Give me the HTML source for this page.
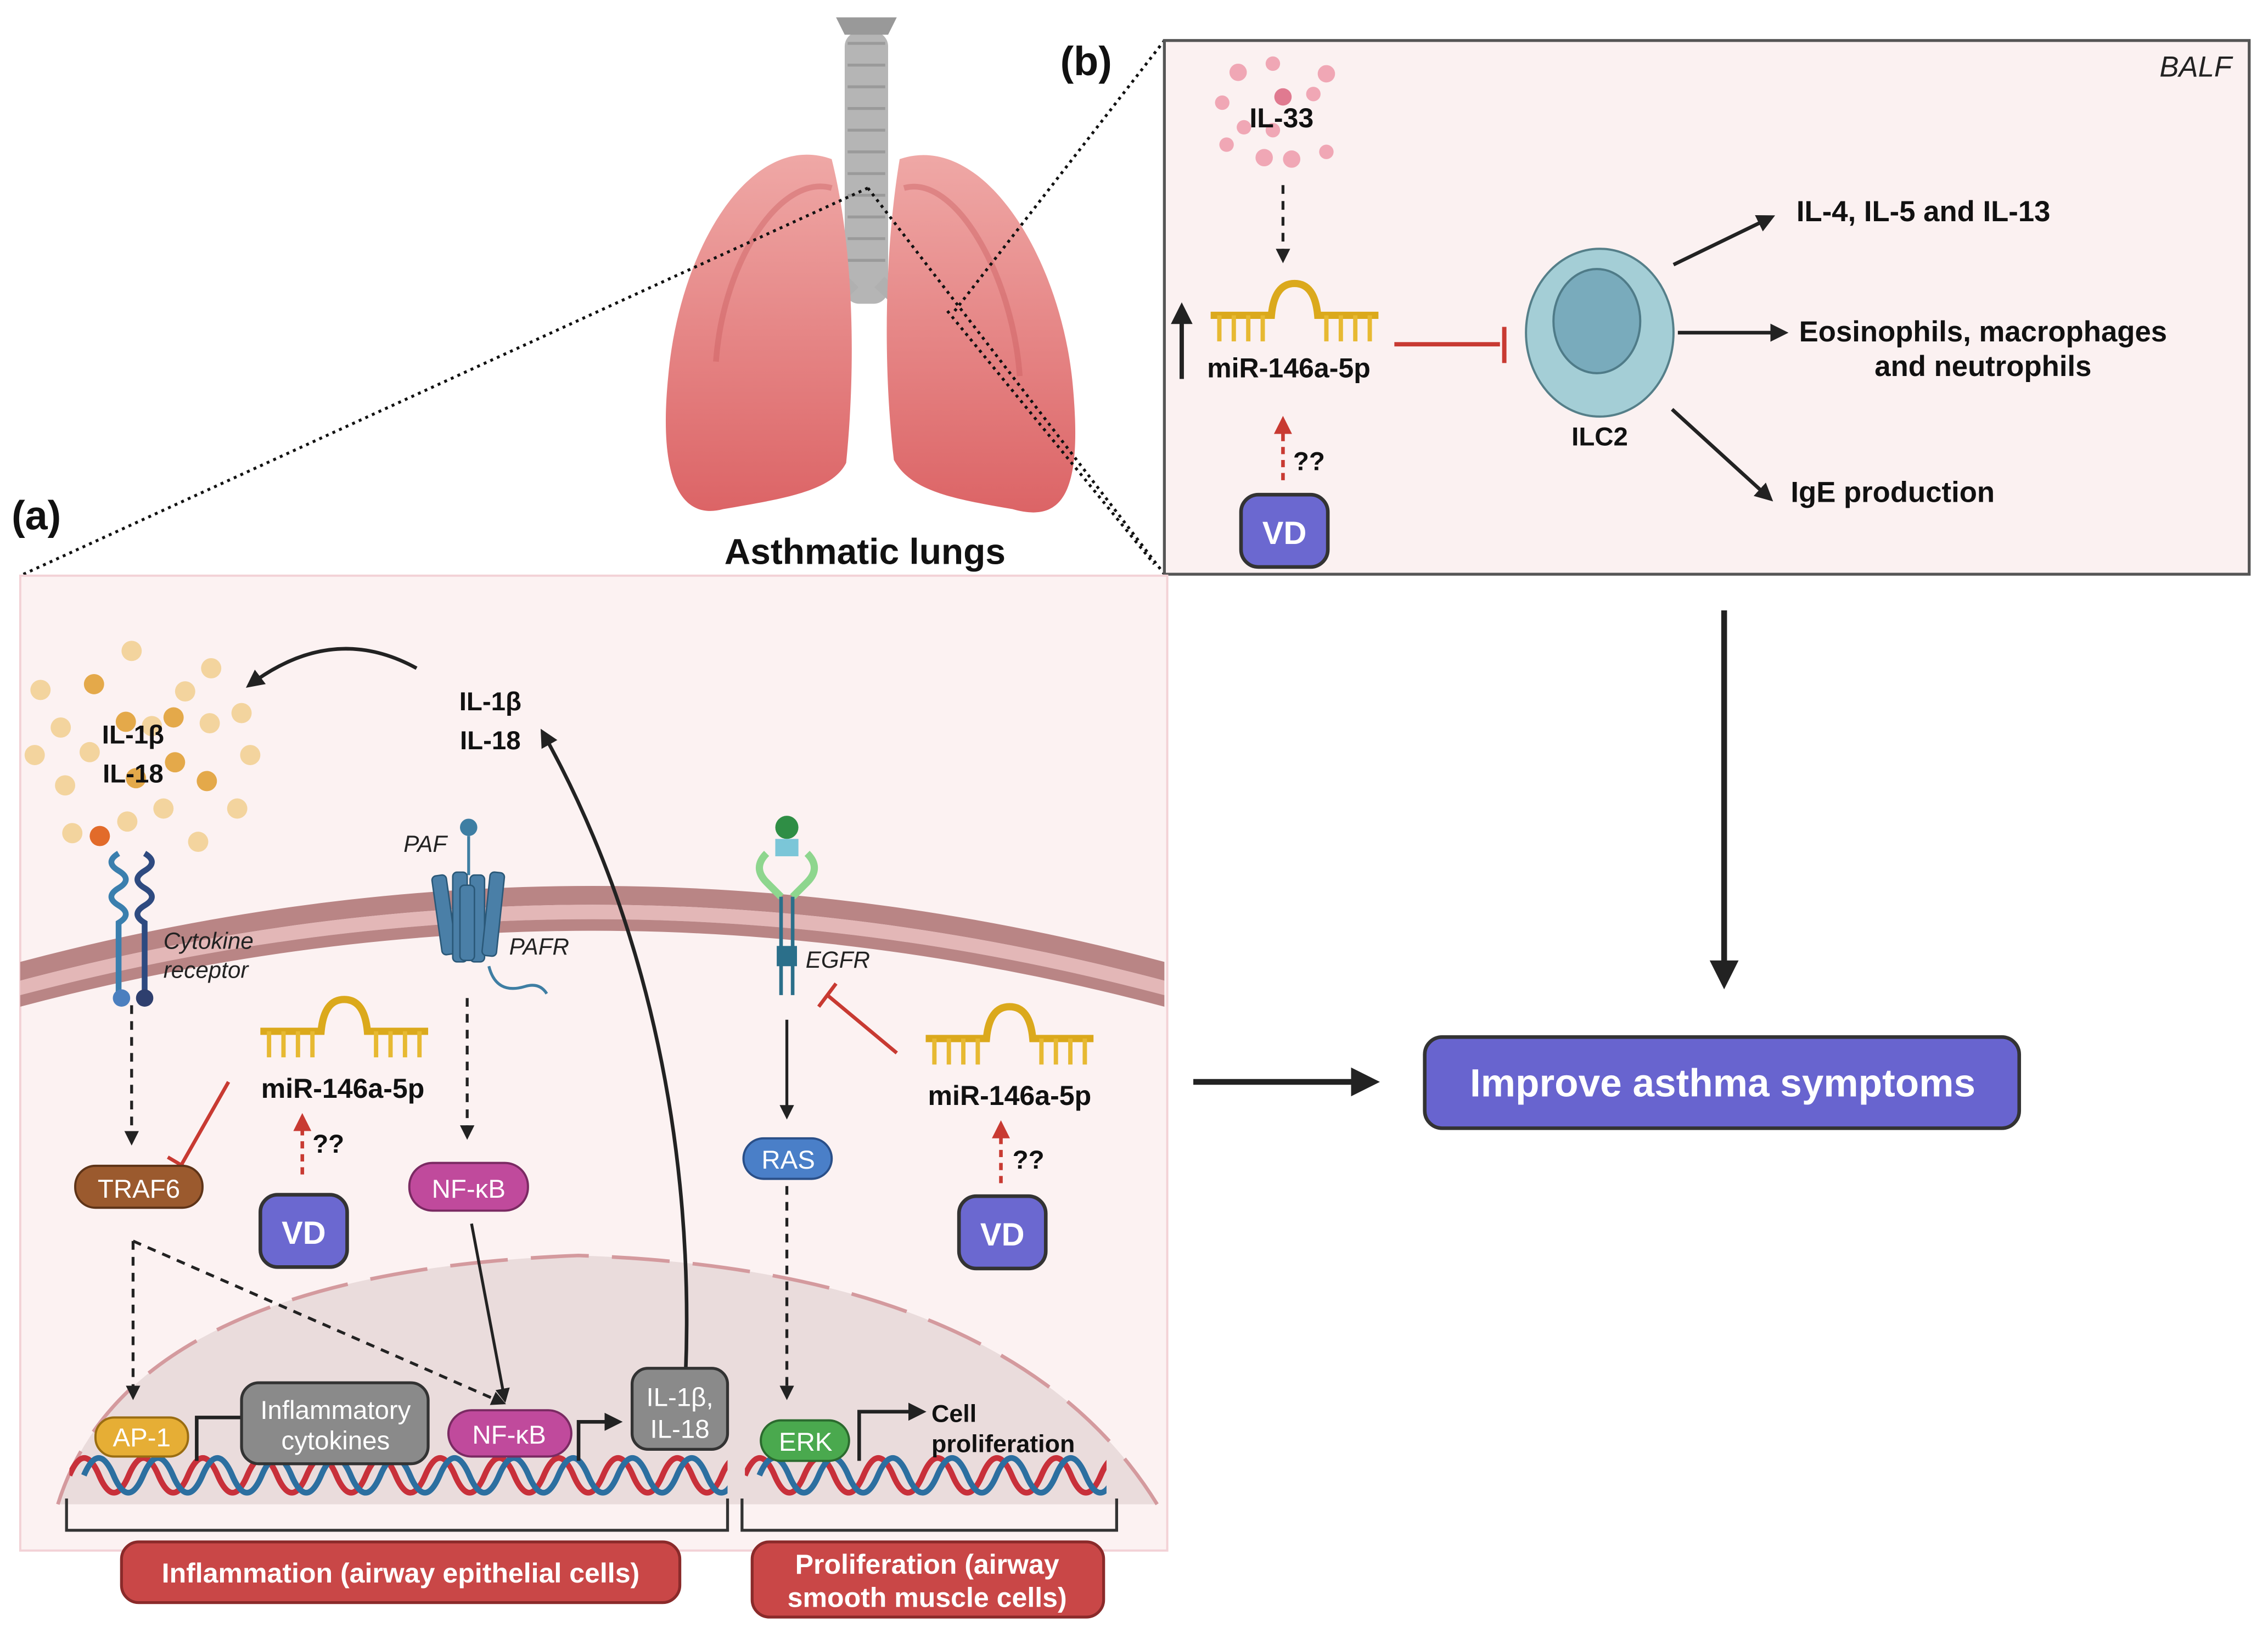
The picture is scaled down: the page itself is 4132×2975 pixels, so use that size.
<!DOCTYPE html>
<html><head><meta charset="utf-8"><style>
html,body{margin:0;padding:0;background:#fff;}
svg{display:block;}
text{font-family:"Liberation Sans",sans-serif;}
</style></head><body>
<svg width="4132" height="2975" viewBox="0 0 1568 1129" preserveAspectRatio="none" xmlns="http://www.w3.org/2000/svg">
<defs>
<marker id="ah" viewBox="0 0 10 10" refX="8" refY="5" markerWidth="5" markerHeight="5" orient="auto"><path d="M0,0 L10,5 L0,10z" fill="#222"/></marker>
<marker id="ahr" viewBox="0 0 10 10" refX="8" refY="5" markerWidth="5" markerHeight="5" orient="auto"><path d="M0,0 L10,5 L0,10z" fill="#c83a32"/></marker>
<linearGradient id="lg" x1="0" y1="0" x2="0" y2="1"><stop offset="0" stop-color="#efa8a6"/><stop offset="1" stop-color="#dc6466"/></linearGradient>
<g id="mir">
<path d="M0,0 H42 Q44,-22 58,-22 Q72,-22 74,0 H116" fill="none" stroke="#dba91c" stroke-width="5"/>
<path d="M6,0v18M16,0v18M26,0v18M36,0v18M80,0v18M90,0v18M100,0v18M110,0v18" stroke="#e7b932" stroke-width="3"/>
</g>
<g id="vd">
<rect x="0" y="0" width="60" height="50" rx="12" fill="#6b68d0" stroke="#333" stroke-width="2.5"/>
<text x="30" y="34" text-anchor="middle" font-size="22" font-weight="bold" fill="#fff">VD</text>
</g>
<path id="wave" d="M0,0 q10.25,-24 20.5,0 t20.5,0 t20.5,0 t20.5,0 t20.5,0 t20.5,0 t20.5,0 t20.5,0 t20.5,0 t20.5,0 t20.5,0 t20.5,0 t20.5,0 t20.5,0 t20.5,0 t20.5,0 t20.5,0 t20.5,0 t20.5,0 t20.5,0 t20.5,0 t20.5,0 t20.5,0 t20.5,0 t20.5,0" fill="none" stroke-width="4"/>
<clipPath id="c1"><rect x="48" y="990" width="455" height="60"/></clipPath>
<clipPath id="c2"><rect x="515" y="990" width="250" height="60"/></clipPath>
</defs>

<!-- lungs -->
<rect x="584" y="22" width="30" height="188" rx="10" fill="#b5b5b5"/>
<path d="M586,30h26M586,45h26M586,60h26M586,75h26M586,90h26M586,105h26M586,120h26M586,135h26M586,150h26M586,165h26M586,180h26" stroke="#9a9a9a" stroke-width="2"/>
<path d="M578,12 h42 l-6,12 h-30z" fill="#999"/>
<path d="M590,195 L560,225 M608,195 L640,225" stroke="#b0b0b0" stroke-width="10"/>
<path d="M575,110 C520,90 470,170 462,260 C455,330 470,360 500,352 C540,345 575,340 585,320 C592,250 590,170 575,110z" fill="url(#lg)"/>
<path d="M622,110 C680,90 735,180 742,270 C748,340 735,362 700,352 C660,345 630,340 618,318 C610,250 612,170 622,110z" fill="url(#lg)"/>
<path d="M575,130 C540,120 500,180 495,250" fill="none" stroke="#c85a5c" stroke-width="4" opacity=".4"/>
<path d="M625,130 C660,120 700,190 705,260" fill="none" stroke="#c85a5c" stroke-width="4" opacity=".4"/>
<text x="598" y="390" text-anchor="middle" font-size="25" font-weight="bold" fill="#111">Asthmatic lungs</text>

<!-- dotted zoom lines -->
<path d="M600,130 L14,398 M600,130 L805,397 M660,215 L805,28 M655,215 L798,390" stroke="#111" stroke-width="2" stroke-dasharray="2,3" fill="none"/>
<text x="8" y="366" font-size="28" font-weight="bold" fill="#111">(a)</text>
<text x="733" y="52" font-size="28" font-weight="bold" fill="#111">(b)</text>

<!-- panel b -->
<rect x="805" y="28" width="750" height="369" fill="#fbf1f1" stroke="#555" stroke-width="2"/>
<text x="1543" y="53" text-anchor="end" font-size="20" font-style="italic" fill="#222">BALF</text>
<g fill="#f0a7b5">
<circle cx="856" cy="50" r="6"/><circle cx="880" cy="44" r="5"/><circle cx="917" cy="51" r="6"/><circle cx="845" cy="71" r="5"/><circle cx="908" cy="65" r="5"/><circle cx="887" cy="67" r="6" fill="#e07a90"/><circle cx="848" cy="100" r="5"/><circle cx="880" cy="90" r="5"/><circle cx="917" cy="105" r="5"/><circle cx="874" cy="109" r="6"/><circle cx="893" cy="110" r="6"/><circle cx="860" cy="88" r="5"/>
</g>
<text x="886" y="88" text-anchor="middle" font-size="19" font-weight="bold" fill="#111">IL-33</text>
<path d="M887,128 V180" stroke="#222" stroke-width="2" stroke-dasharray="6,5" marker-end="url(#ah)"/>
<path d="M817,262 V212" stroke="#222" stroke-width="3" marker-end="url(#ah)"/>
<use href="#mir" x="837" y="218"/>
<text x="891" y="261" text-anchor="middle" font-size="19" font-weight="bold" fill="#111">miR-146a-5p</text>
<path d="M964,238 H1037 M1040,226 V251" stroke="#c83a32" stroke-width="3"/>
<path d="M887,332 V290" stroke="#c83a32" stroke-width="2.5" stroke-dasharray="5,4" marker-end="url(#ahr)"/>
<text x="894" y="325" font-size="18" font-weight="bold" fill="#111">??</text>
<use href="#vd" x="858" y="342"/>
<ellipse cx="1106" cy="230" rx="51" ry="58" fill="#a4ced6" stroke="#557f89" stroke-width="1.5"/>
<ellipse cx="1104" cy="222" rx="30" ry="36" fill="#79abbc" stroke="#4f7b88" stroke-width="1.5"/>
<text x="1106" y="308" text-anchor="middle" font-size="18" font-weight="bold" fill="#111">ILC2</text>
<path d="M1157,183 L1225,150" stroke="#222" stroke-width="2.5" marker-end="url(#ah)"/>
<path d="M1160,230 H1234" stroke="#222" stroke-width="2.5" marker-end="url(#ah)"/>
<path d="M1156,283 L1224,345" stroke="#222" stroke-width="2.5" marker-end="url(#ah)"/>
<text x="1242" y="153" font-size="20" font-weight="bold" fill="#111">IL-4, IL-5 and IL-13</text>
<text x="1371" y="236" text-anchor="middle" font-size="20" font-weight="bold" fill="#111">Eosinophils, macrophages</text>
<text x="1371" y="260" text-anchor="middle" font-size="20" font-weight="bold" fill="#111">and neutrophils</text>
<text x="1238" y="347" font-size="20" font-weight="bold" fill="#111">IgE production</text>

<!-- right arrows & result -->
<path d="M1192,422 V680" stroke="#222" stroke-width="4" marker-end="url(#ah)"/>
<path d="M825,748 H950" stroke="#222" stroke-width="4" marker-end="url(#ah)"/>
<rect x="985" y="717" width="411" height="63" rx="12" fill="#6864cf" stroke="#333" stroke-width="2.5"/>
<text x="1191" y="758" text-anchor="middle" font-size="27" font-weight="bold" fill="#fff">Improve asthma symptoms</text>

<!-- panel a -->
<rect x="14" y="398" width="793" height="674" fill="#fcf2f2" stroke="#f3d2d6" stroke-width="1.5"/>
<path d="M14,665 Q410,560 805,665 L805,678 Q410,573 14,678z" fill="#b98585"/>
<path d="M14,678 Q410,573 805,678 L805,688 Q410,583 14,688z" fill="#e3b7b7"/>
<path d="M14,688 Q410,583 805,688 L805,696 Q410,591 14,696z" fill="#b98585"/>
<!-- nucleus -->
<path d="M40,1040 Q90,880 400,868 Q700,878 800,1040z" fill="#eadcdc"/>
<path d="M40,1040 Q90,880 400,868 Q700,878 800,1040" fill="none" stroke="#d49a9e" stroke-width="2.5" stroke-dasharray="40,16"/>

<!-- cytokine dots -->
<g fill="#f3d49e">
<circle cx="91" cy="450" r="7"/><circle cx="146" cy="462" r="7"/><circle cx="28" cy="477" r="7"/><circle cx="42" cy="503" r="7"/><circle cx="105" cy="502" r="7"/><circle cx="128" cy="478" r="7"/><circle cx="167" cy="493" r="7"/><circle cx="24" cy="522" r="7"/><circle cx="62" cy="520" r="7"/><circle cx="173" cy="522" r="7"/><circle cx="45" cy="543" r="7"/><circle cx="113" cy="559" r="7"/><circle cx="164" cy="559" r="7"/><circle cx="50" cy="576" r="7"/><circle cx="88" cy="568" r="7"/><circle cx="137" cy="582" r="7"/><circle cx="145" cy="500" r="7"/>
</g>
<g fill="#e4a94a"><circle cx="65" cy="473" r="7"/><circle cx="87" cy="499" r="7"/><circle cx="120" cy="496" r="7"/><circle cx="121" cy="527" r="7"/><circle cx="143" cy="540" r="7"/><circle cx="94" cy="538" r="7"/></g>
<circle cx="69" cy="578" r="7" fill="#e26b2a"/>
<text x="92" y="514" text-anchor="middle" font-size="18" font-weight="bold" fill="#111">IL-1β</text>
<text x="92" y="541" text-anchor="middle" font-size="18" font-weight="bold" fill="#111">IL-18</text>
<text x="339" y="491" text-anchor="middle" font-size="18" font-weight="bold" fill="#111">IL-1β</text>
<text x="339" y="518" text-anchor="middle" font-size="18" font-weight="bold" fill="#111">IL-18</text>
<path d="M288,462 Q230,430 172,474" fill="none" stroke="#222" stroke-width="2.5" marker-end="url(#ah)"/>
<path d="M474,950 C480,800 450,640 375,506" fill="none" stroke="#222" stroke-width="2.5" marker-end="url(#ah)"/>

<!-- cytokine receptor -->
<g fill="none" stroke-width="4">
<path d="M82,590 q-10,6 0,12 q10,6 0,12 q-10,6 0,12 q10,6 0,12 V690" stroke="#3a7fae"/>
<path d="M100,590 q10,6 0,12 q-10,6 0,12 q10,6 0,12 q-10,6 0,12 V690" stroke="#2e4a80"/>
</g>
<circle cx="84" cy="690" r="6" fill="#4b7fbf"/><circle cx="100" cy="690" r="6" fill="#2e3f6e"/>
<text x="113" y="656" font-size="16" font-style="italic" fill="#222">Cytokine</text>
<text x="113" y="676" font-size="16" font-style="italic" fill="#222">receptor</text>
<!-- PAFR -->
<circle cx="324" cy="572" r="6" fill="#3e7ea3"/>
<path d="M324,578 V605" stroke="#3e7ea3" stroke-width="2"/>
<g fill="#4a7fa7" stroke="#2a5878" stroke-width="1">
<rect x="302" y="605" width="10" height="55" rx="3" transform="rotate(-8 307 632)"/><rect x="313" y="603" width="10" height="62" rx="3"/><rect x="325" y="605" width="10" height="60" rx="3"/><rect x="336" y="603" width="10" height="58" rx="3" transform="rotate(6 341 632)"/><rect x="318" y="612" width="10" height="52" rx="3"/>
</g>
<path d="M338,668 q5,20 25,14 q10,-3 15,5" fill="none" stroke="#3e7ea3" stroke-width="2"/>
<text x="279" y="589" font-size="16" font-style="italic" fill="#222">PAF</text>
<text x="352" y="660" font-size="16" font-style="italic" fill="#222">PAFR</text>
<!-- EGFR -->
<circle cx="544" cy="572" r="8" fill="#2f8e45"/>
<rect x="536" y="580" width="16" height="12" fill="#7bc6d8"/>
<path d="M530,590 q-10,10 0,20 q5,5 10,10 M558,590 q10,10 0,20 q-5,5 -10,10" fill="none" stroke="#8ed68e" stroke-width="5"/>
<path d="M540,620 V688 M548,620 V688" stroke="#2b6f8a" stroke-width="2.5"/>
<rect x="537" y="654" width="14" height="14" fill="#2b6f8a"/>
<text x="557" y="669" font-size="16" font-style="italic" fill="#222">EGFR</text>

<!-- arrows in cell -->
<path d="M91,695 V790" stroke="#222" stroke-width="2" stroke-dasharray="6,5" marker-end="url(#ah)"/>
<path d="M323,690 V786" stroke="#222" stroke-width="2" stroke-dasharray="6,5" marker-end="url(#ah)"/>
<path d="M544,705 V772" stroke="#222" stroke-width="2" marker-end="url(#ah)"/>
<path d="M544,820 V966" stroke="#222" stroke-width="2" stroke-dasharray="6,5" marker-end="url(#ah)"/>
<path d="M92,858 V966" stroke="#222" stroke-width="2" stroke-dasharray="6,5" marker-end="url(#ah)"/>
<path d="M92,858 L348,970" stroke="#222" stroke-width="2" stroke-dasharray="6,5" marker-end="url(#ah)"/>
<path d="M326,846 L349,968" stroke="#222" stroke-width="2" marker-end="url(#ah)"/>
<!-- inhibition -->
<path d="M158,748 L125,806 M116,800 L133,810" stroke="#c83a32" stroke-width="2.5"/>
<path d="M620,728 L572,688 M566,696 L578,680" stroke="#c83a32" stroke-width="2.5"/>

<!-- mirs -->
<use href="#mir" x="180" y="713"/>
<text x="237" y="759" text-anchor="middle" font-size="19" font-weight="bold" fill="#111">miR-146a-5p</text>
<path d="M209,812 V772" stroke="#c83a32" stroke-width="2.5" stroke-dasharray="5,4" marker-end="url(#ahr)"/>
<text x="216" y="797" font-size="18" font-weight="bold" fill="#111">??</text>
<use href="#vd" x="180" y="826"/>
<use href="#mir" x="640" y="718"/>
<text x="698" y="764" text-anchor="middle" font-size="19" font-weight="bold" fill="#111">miR-146a-5p</text>
<path d="M692,818 V777" stroke="#c83a32" stroke-width="2.5" stroke-dasharray="5,4" marker-end="url(#ahr)"/>
<text x="700" y="808" font-size="18" font-weight="bold" fill="#111">??</text>
<use href="#vd" x="663" y="827"/>

<!-- pills -->
<rect x="52" y="806" width="88" height="29" rx="14" fill="#9b5a2e" stroke="#5e3418" stroke-width="1.5"/>
<text x="96" y="828" text-anchor="middle" font-size="18" fill="#fff">TRAF6</text>
<rect x="283" y="804" width="82" height="33" rx="16" fill="#c04a9c" stroke="#7a2a62" stroke-width="1.5"/>
<text x="324" y="828" text-anchor="middle" font-size="18" fill="#fff">NF-κB</text>
<rect x="514" y="787" width="61" height="28" rx="14" fill="#4a7fc8" stroke="#2a4f88" stroke-width="1.5"/>
<text x="545" y="808" text-anchor="middle" font-size="18" fill="#fff">RAS</text>

<!-- DNA -->
<g clip-path="url(#c1)">
<g stroke="#c8303a"><use href="#wave" x="48" y="1020"/></g>
<g stroke="#2c6fa0"><use href="#wave" x="58" y="1020"/></g>
</g>
<g clip-path="url(#c2)">
<g stroke="#c8303a"><use href="#wave" x="515" y="1020"/></g>
<g stroke="#2c6fa0"><use href="#wave" x="525" y="1020"/></g>
</g>
<!-- nuclear elements -->
<rect x="66" y="980" width="64" height="27" rx="13" fill="#e6ae35" stroke="#9a6d12" stroke-width="1.5"/>
<text x="98" y="1000" text-anchor="middle" font-size="18" fill="#fff">AP-1</text>
<path d="M136,1010 V980 H168" fill="none" stroke="#222" stroke-width="2.5"/>
<rect x="167" y="956" width="129" height="56" rx="12" fill="#8a8a8a" stroke="#333" stroke-width="2"/>
<text x="232" y="981" text-anchor="middle" font-size="18" fill="#fff">Inflammatory</text>
<text x="232" y="1002" text-anchor="middle" font-size="18" fill="#fff">cytokines</text>
<rect x="310" y="975" width="85" height="32" rx="16" fill="#c04a9c" stroke="#7a2a62" stroke-width="1.5"/>
<text x="352" y="998" text-anchor="middle" font-size="18" fill="#fff">NF-κB</text>
<path d="M400,1010 V983 H428" fill="none" stroke="#222" stroke-width="2.5" marker-end="url(#ah)"/>
<rect x="437" y="946" width="66" height="56" rx="11" fill="#8a8a8a" stroke="#333" stroke-width="2"/>
<text x="470" y="972" text-anchor="middle" font-size="18" fill="#fff">IL-1β,</text>
<text x="470" y="994" text-anchor="middle" font-size="18" fill="#fff">IL-18</text>
<rect x="526" y="982" width="61" height="28" rx="14" fill="#4aa94e" stroke="#2b6a2e" stroke-width="1.5"/>
<text x="557" y="1003" text-anchor="middle" font-size="18" fill="#fff">ERK</text>
<path d="M594,1010 V976 H638" fill="none" stroke="#222" stroke-width="2.5" marker-end="url(#ah)"/>
<text x="644" y="983" font-size="17" font-weight="bold" fill="#111">Cell</text>
<text x="644" y="1004" font-size="17" font-weight="bold" fill="#111">proliferation</text>

<!-- brackets -->
<path d="M46,1036 V1058 H503 V1036 M513,1036 V1058 H772 V1036" fill="none" stroke="#333" stroke-width="2"/>
<rect x="84" y="1066" width="386" height="42" rx="12" fill="#c94747" stroke="#8a2a2a" stroke-width="2"/>
<text x="277" y="1094" text-anchor="middle" font-size="19" font-weight="bold" fill="#fff">Inflammation (airway epithelial cells)</text>
<rect x="520" y="1066" width="243" height="52" rx="12" fill="#c94747" stroke="#8a2a2a" stroke-width="2"/>
<text x="641" y="1088" text-anchor="middle" font-size="19" font-weight="bold" fill="#fff">Proliferation (airway</text>
<text x="641" y="1111" text-anchor="middle" font-size="19" font-weight="bold" fill="#fff">smooth muscle cells)</text>
</svg>
</body></html>
